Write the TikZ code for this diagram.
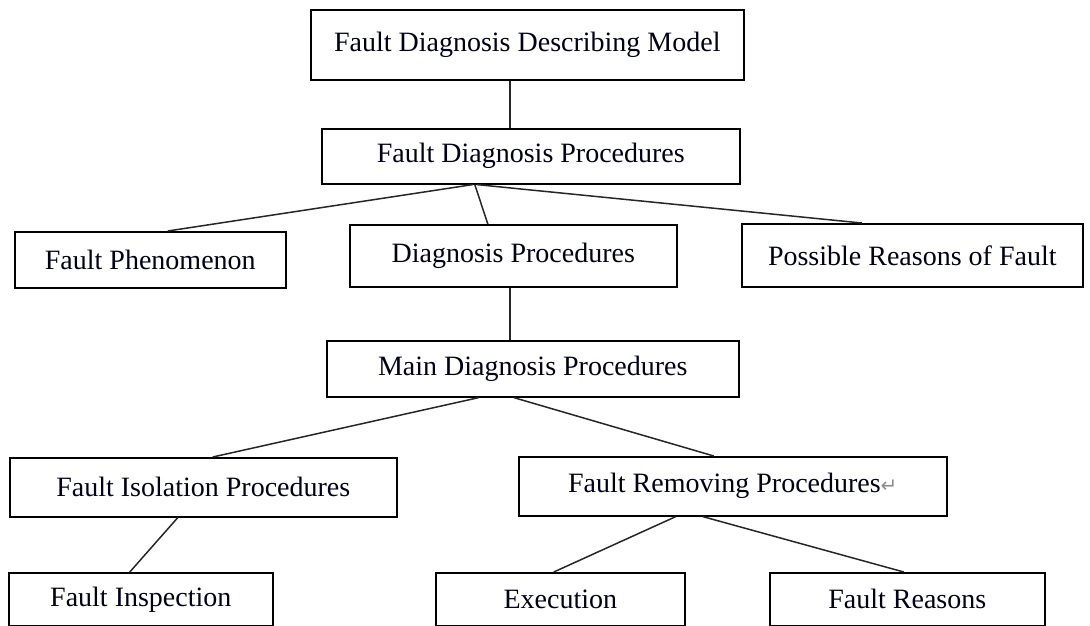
\documentclass[tikz,border=0pt]{standalone}
\usepackage{fontspec}
\setmainfont{Liberation Serif}
\newfontfamily\symfont{DejaVu Sans}
\begin{document}
\begin{tikzpicture}[x=1pt,y=-1pt,
  box/.style={draw=black,line width=1.6pt,rectangle,anchor=north west,inner sep=0pt,
    font=\fontsize{28}{32}\selectfont,text=black!90!blue},
  conn/.style={draw=black!85,line width=1.5pt}]
\useasboundingbox (0,0) rectangle (1090,626);
\node[box,minimum width=433pt,minimum height=70pt] (b1) at (310,9) {Fault Diagnosis Describing Model};
\node[box,minimum width=418pt,minimum height=55pt] (b2) at (321,128) {Fault Diagnosis Procedures};
\node[box,minimum width=271pt,minimum height=56pt] (b3) at (14,231) {Fault Phenomenon};
\node[box,minimum width=327pt,minimum height=62pt] (b4) at (349,224) {Diagnosis Procedures};
\node[box,minimum width=341pt,minimum height=63pt] (b5) at (741,223) {Possible Reasons of Fault};
\node[box,minimum width=412pt,minimum height=56pt] (b6) at (326,340) {Main Diagnosis Procedures};
\node[box,minimum width=387pt,minimum height=59pt] (b7) at (9,457) {Fault Isolation Procedures};
\node[box,minimum width=428pt,minimum height=59pt] (b8) at (518,456) {Fault Removing Procedures{\symfont\fontsize{20}{20}\selectfont\color{black!45}↵}};
\node[box,minimum width=264pt,minimum height=53pt] (b9) at (8,572) {Fault Inspection};
\node[box,minimum width=249pt,minimum height=53pt] (b10) at (435,572) {Execution};
\node[box,minimum width=275pt,minimum height=53pt] (b11) at (769,572) {Fault Reasons};

\draw[conn] ([xshift=-17.5pt]b1.south) -- ([xshift=-21pt]b2.north);
\draw[conn] ([xshift=-58pt]b2.south) -- ([xshift=17.5pt]b3.north);
\draw[conn] ([xshift=-56pt]b2.south) -- ([xshift=-25.5pt]b4.north);
\draw[conn] ([xshift=-54pt]b2.south) -- ([xshift=-50.5pt]b5.north);
\draw[conn] ([xshift=-3.5pt]b4.south) -- ([xshift=-23pt]b6.north);
\draw[conn] ([xshift=-54pt]b6.south) -- ([xshift=9.5pt]b7.north);
\draw[conn] ([xshift=-19pt]b6.south) -- ([xshift=-19pt]b8.north);
\draw[conn] ([xshift=-25.5pt]b7.south) -- ([xshift=-11pt]b9.north);
\draw[conn] ([xshift=-57pt]b8.south) -- ([xshift=-6.5pt]b10.north);
\draw[conn] ([xshift=-30pt]b8.south) -- ([xshift=-3.5pt]b11.north);
\end{tikzpicture}
\end{document}
